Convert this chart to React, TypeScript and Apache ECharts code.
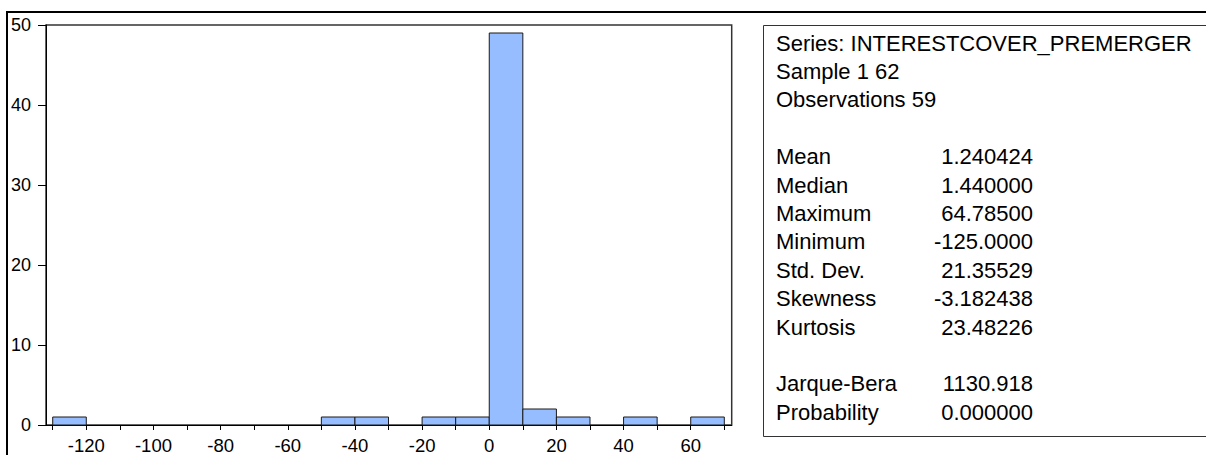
import React, { useEffect, useRef } from "react";
import * as echarts from "echarts";

const binStarts = [-130, -50, -40, -20, -10, 0, 10, 20, 40, 60];
const binCounts = [1, 1, 1, 1, 1, 49, 2, 1, 1, 1];
const binWidth = 10;
const xTickValues = [-130, -120, -110, -100, -90, -80, -70, -60, -50, -40, -30, -20, -10, 0, 10, 20, 30, 40, 50, 60, 70];
const xLabelValues = [-120, -100, -80, -60, -40, -20, 0, 20, 40, 60];

const headerLines = ["Series: INTERESTCOVER_PREMERGER", "Sample 1 62", "Observations 59"];
const statNames = ["Mean", "Median", "Maximum", "Minimum", "Std. Dev.", "Skewness", "Kurtosis"];
const statValues = ["1.240424", "1.440000", "64.78500", "-125.0000", "21.35529", "-3.182438", "23.48226"];
const testNames = ["Jarque-Bera", "Probability"];
const testValues = ["1130.918", "0.000000"];

const FONT = "'Liberation Sans', Arial, sans-serif";

export default function App() {
  const ref = useRef<HTMLDivElement>(null);
  useEffect(() => {
    document.body.style.margin = "0";
    const chart = echarts.init(ref.current!, undefined, { renderer: "svg" });
    const rowY0 = 43;
    const rowStep = 28.4;
    const labelX = 776;
    const valueX = 1033;
    const texts: any[] = [];
    headerLines.forEach((t, i) => {
      texts.push({
        type: "text",
        x: labelX,
        y: rowY0 + i * rowStep,
        style: { text: t, font: `22px ${FONT}`, fill: "#000", verticalAlign: "middle", textAlign: "left" },
      });
    });
    const addRow = (name: string, val: string, idx: number) => {
      const y = rowY0 + idx * rowStep;
      texts.push({
        type: "text",
        x: labelX,
        y,
        style: { text: name, font: `22px ${FONT}`, fill: "#000", verticalAlign: "middle", textAlign: "left" },
      });
      texts.push({
        type: "text",
        x: valueX,
        y,
        style: { text: val, font: `22px ${FONT}`, fill: "#000", verticalAlign: "middle", textAlign: "right" },
      });
    };
    statNames.forEach((n, i) => addRow(n, statValues[i], 4 + i));
    testNames.forEach((n, i) => addRow(n, testValues[i], 12 + i));

    chart.setOption({
      animation: false,
      grid: {
        left: 46,
        top: 25,
        right: 1206 - 731.7,
        bottom: 455 - 427,
        show: true,
        borderColor: "#333",
        borderWidth: 1.5,
        backgroundColor: "transparent",
      },
      xAxis: {
        type: "value",
        min: -132,
        max: 72.2,
        axisLine: { show: true, onZero: false, lineStyle: { color: "#000", width: 1 } },
        axisTick: { show: true, inside: false, length: 5, customValues: xTickValues, lineStyle: { color: "#000" } },
        axisLabel: {
          customValues: xLabelValues,
          color: "#000",
          fontSize: 18.5,
          fontFamily: FONT,
          margin: 11,
        },
        splitLine: { show: false },
      },
      yAxis: {
        type: "value",
        min: 0,
        max: 50,
        interval: 10,
        axisLine: { show: true, onZero: false, lineStyle: { color: "#000", width: 1 } },
        axisTick: { show: true, inside: false, length: 8, lineStyle: { color: "#000" } },
        axisLabel: { color: "#000", fontSize: 18, fontFamily: FONT, margin: 15 },
        splitLine: { show: false },
      },
      series: [
        {
          type: "custom",
          data: binStarts.map((s, i) => [s, s + binWidth, binCounts[i]]),
          renderItem: (params: any, api: any) => {
            const p0 = api.coord([api.value(0), api.value(2)]);
            const p1 = api.coord([api.value(1), 0]);
            return {
              type: "rect",
              shape: { x: p0[0], y: p0[1], width: p1[0] - p0[0], height: p1[1] - p0[1] },
              style: { fill: "#95BDFF", stroke: "#1a1a1a", lineWidth: 1 },
            };
          },
          encode: { x: [0, 1], y: 2 },
        },
      ],
      graphic: [
        { type: "line", shape: { x1: 6, y1: 12, x2: 1206, y2: 12 }, style: { stroke: "#000", lineWidth: 2 } },
        { type: "line", shape: { x1: 7, y1: 12, x2: 7, y2: 455 }, style: { stroke: "#000", lineWidth: 2 } },
        {
          type: "rect",
          shape: { x: 763.5, y: 25.5, width: 500, height: 411 },
          style: { fill: "none", stroke: "#333", lineWidth: 1 },
        },
        ...texts,
      ],
    });
    return () => chart.dispose();
  }, []);
  return <div ref={ref} style={{ width: 1206, height: 455 }} />;
}
